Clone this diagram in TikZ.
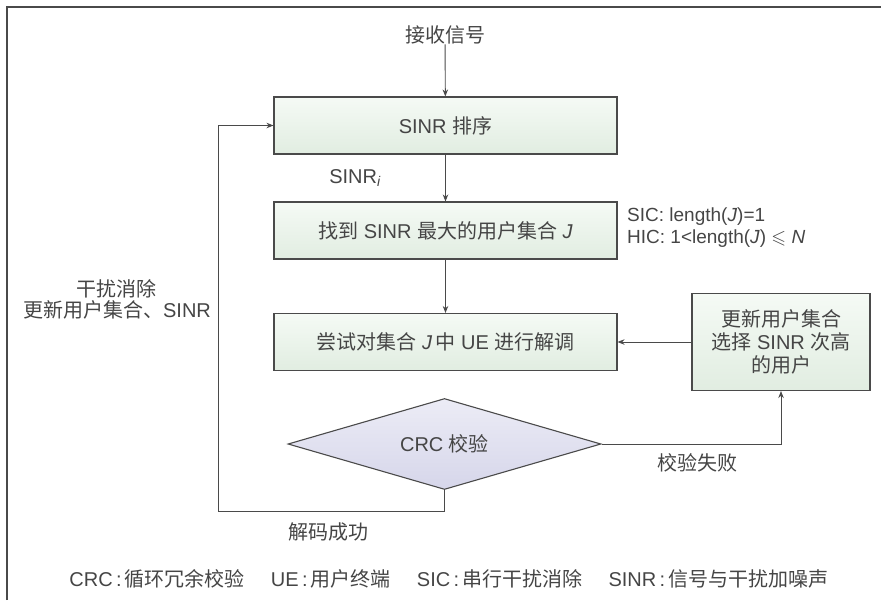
\documentclass[tikz,border=0pt]{standalone}
\usepackage{fontspec}
\usepackage{amssymb}
\setmainfont{Liberation Sans}
\newfontfamily\zhf{Noto Sans CJK SC}
\newcommand\zh[1]{{\zhf #1}}
\usetikzlibrary{shapes.geometric,arrows.meta}
\definecolor{txt}{HTML}{454545}
\definecolor{edge}{HTML}{4A4A4A}
\definecolor{gtop}{HTML}{F5FAF5}
\definecolor{gbot}{HTML}{E1EDE1}
\definecolor{dtop}{HTML}{ECECF6}
\definecolor{dbot}{HTML}{D6D6EA}
\tikzset{
  boxnode/.style={draw=edge, line width=1.1pt, top color=gtop, bottom color=gbot,
    minimum width=343pt, minimum height=57pt, inner sep=0pt, text=txt,
    font=\fontsize{20}{23}\selectfont},
  dianode/.style={diamond, draw=edge, line width=1.1pt, top color=dtop, bottom color=dbot,
    minimum width=313pt, minimum height=91pt, aspect=3.44, inner sep=0pt, text=txt,
    font=\fontsize{20}{23}\selectfont},
  lbl/.style={text=txt, inner sep=0pt, font=\fontsize{20}{23}\selectfont},
  arr/.style={draw=edge, line width=0.9pt, -{Stealth[length=7pt,width=5.5pt]}}
}
\begin{document}
\begin{tikzpicture}[x=1pt,y=-1pt]
\useasboundingbox (0,0) rectangle (881,600);
\draw[edge, line width=1.3pt] (7,600) -- (7,7) -- (881,7);

\node[lbl] (recv) at (445,35) {\zh{接收信号}};
\node[boxnode] (b1) at (445.5,125.5) {SINR \zh{排序}};
\node[lbl] (sinri) at (355,178) {SINR\textsubscript{\itshape i}};
\node[boxnode] (b2) at (445.5,230.5) {\zh{找到} SINR \zh{最大的用户集合} \textit{J}};
\node[lbl, anchor=west, align=left, font=\fontsize{19}{22}\selectfont] (cond) at (627,228)
  {SIC: length(\textit{J})=1\\HIC: 1<length(\textit{J}) $\leqslant$ \textit{N}};
\node[boxnode] (b3) at (445.5,342) {\zh{尝试对集合} \textit{J}\,\zh{中} UE \zh{进行解调}};
\node[boxnode, minimum width=178pt, minimum height=97pt, align=center] (b4) at (781,342)
  {\zh{更新用户集合}\\\zh{选择} SINR \zh{次高}\\\zh{的用户}};
\node[dianode] (d) at (444.5,444) {CRC \zh{校验}};
\node[lbl, align=center, font=\fontsize{20}{21}\selectfont] (left) at (117,299)
  {\zh{干扰消除}\\\zh{更新用户集合、}SINR};
\node[lbl] (fail) at (697,463) {\zh{校验失败}};
\node[lbl] (succ) at (328,532) {\zh{解码成功}};
\node[lbl] (legend) at (449,579)
  {CRC\,:\,\zh{循环冗余校验}\hspace{26pt}UE\,:\,\zh{用户终端}\hspace{26pt}SIC\,:\,\zh{串行干扰消除}\hspace{26pt}SINR\,:\,\zh{信号与干扰加噪声}};

\coordinate (lc) at (218,511);
\draw[arr] (recv) -- (b1);
\draw[arr] (b1) -- (b2);
\draw[arr] (b2) -- (b3);
\draw[arr] (b4.west) -- (b3.east);
\draw[arr] (d.east) -| (b4.south);
\draw[arr] (d.south) |- (lc) |- (b1.west);
\end{tikzpicture}
\end{document}
